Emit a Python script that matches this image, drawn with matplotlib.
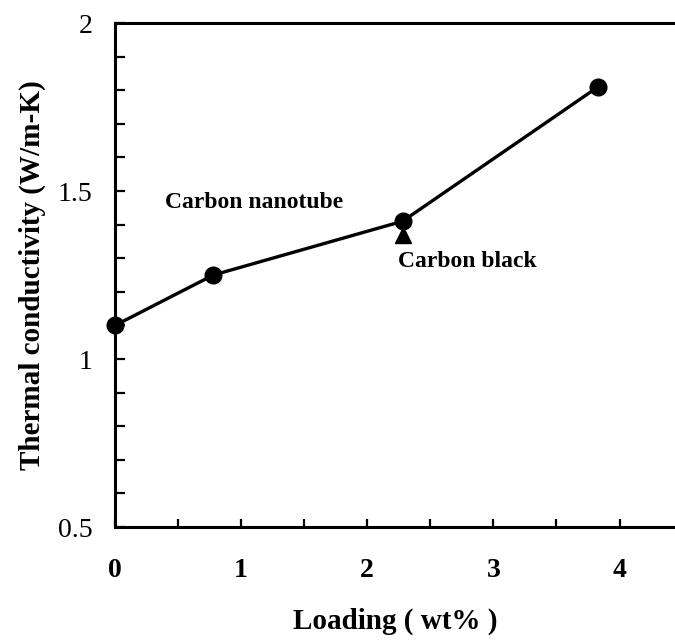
import matplotlib
matplotlib.use('Agg')
import matplotlib.pyplot as plt
from matplotlib.ticker import MultipleLocator, FixedLocator

# carbon nanotube loading vs. thermal conductivity
cnt_loading = [0.0, 0.78, 2.28, 3.83]
cnt_conductivity = [1.10, 1.25, 1.41, 1.81]

# carbon black single measurement
cb_loading = [2.28]
cb_conductivity = [1.37]

x_ticks = [0, 1, 2, 3, 4]
y_ticks = [0.5, 1.0, 1.5, 2.0]
y_tick_labels = ['0.5', '1', '1.5', '2']

plt.rcParams['font.family'] = ['Liberation Serif', 'DejaVu Serif']

fig = plt.figure(figsize=(6.75, 6.43), dpi=100)
ax = fig.add_axes([0.1704, 0.1804, 1.0 - 0.1704, 0.9642 - 0.1804])

ax.plot(cnt_loading, cnt_conductivity, color='black', linewidth=2.4,
        marker='o', markersize=12, clip_on=False, zorder=3)
ax.plot(cb_loading, cb_conductivity, linestyle='none', color='black',
        marker='^', markersize=11, zorder=3)

ax.text(0.40, 1.467, 'Carbon nanotube', fontsize=17, fontweight='bold', va='center')
ax.text(2.24, 1.289, 'Carbon black', fontsize=17, fontweight='bold', va='center')

ax.set_xlim(0, 4.44)
ax.set_ylim(0.5, 2.0)

ax.xaxis.set_major_locator(FixedLocator(x_ticks))
ax.xaxis.set_minor_locator(MultipleLocator(0.5))
ax.yaxis.set_major_locator(FixedLocator(y_ticks))
ax.set_yticklabels(y_tick_labels)
ax.yaxis.set_minor_locator(MultipleLocator(0.1))

ax.tick_params(axis='both', which='both', direction='in', width=1.6)
ax.tick_params(axis='y', which='both', length=7, labelsize=20, pad=16)
ax.tick_params(axis='x', which='both', length=6, labelsize=20, pad=22)
for lbl in ax.get_xticklabels():
    lbl.set_fontweight('bold')

ax.spines['right'].set_visible(False)
for side in ('left', 'top', 'bottom'):
    ax.spines[side].set_linewidth(2.2)

ax.set_xlabel('Loading ( wt% )', fontsize=21, fontweight='bold', labelpad=18)
ax.set_ylabel('Thermal conductivity (W/m-K)', fontsize=21, fontweight='bold', labelpad=9)

fig.savefig('out.png', dpi=100)
